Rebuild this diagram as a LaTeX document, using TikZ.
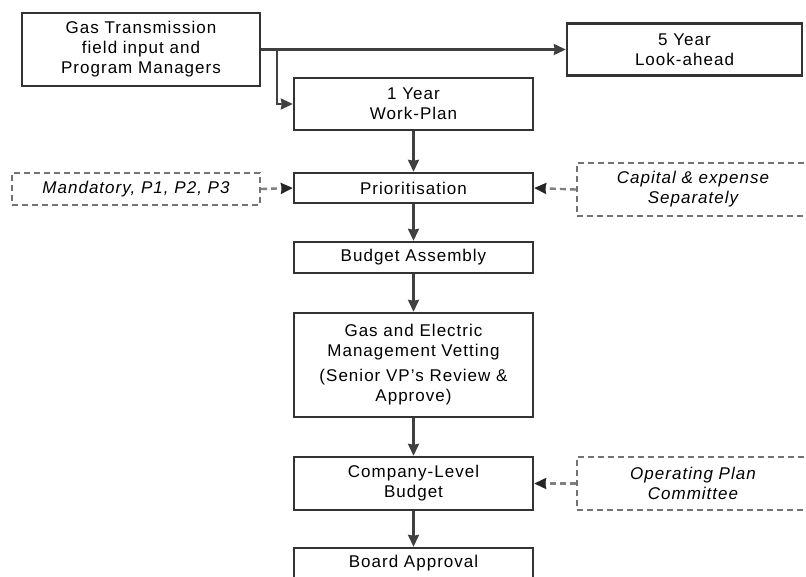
\documentclass[tikz,border=0pt]{standalone}
\usepackage{fontspec}
\setmainfont{Liberation Sans}[LetterSpace=6]
\usetikzlibrary{arrows.meta}
\begin{document}
\begin{tikzpicture}[x=1pt,y=-1pt,font=\fontsize{17}{20}\selectfont, line join=miter, >={Stealth[length=12pt,width=11pt,inset=1pt]},
	box/.style={draw=black!80,line width=2.4pt,inner sep=0pt,align=center,minimum width=239pt},
	dbox/.style={draw=black!55,line width=2.4pt,dash pattern=on 6pt off 4pt,inner sep=0pt,align=center,font=\fontsize{17}{20}\selectfont\itshape},
	flow/.style={draw=black!75,line width=2.4pt,->},
	dflow/.style={draw=black!50,line width=2.4pt,dash pattern=on 6pt off 4pt,-{Stealth[length=12pt,width=11pt,inset=1pt,black!85]}}]
	\useasboundingbox (0,0) rectangle (806,576);
	% top row
	\node[box,minimum width=238pt,minimum height=73pt] (src) at (141,49.5) {Gas Transmission\\field input and\\Program Managers};
	\node[box,minimum width=235pt,minimum height=52pt] (five) at (684.5,49.5) {5 Year\\Look-ahead};
	% main column
	\node[box,minimum height=52pt] (work) at (413.5,104) {1 Year\\Work-Plan};
	\node[box,minimum height=30pt] (prio) at (413.5,188) {Prioritisation};
	\node[box,minimum height=31pt] (budget) at (413.5,257.5) {Budget Assembly};
	\node[box,minimum height=104pt] (vet) at (413.5,365) {Gas and Electric\\Management Vetting\\[5pt](Senior VP's Review \&\\Approve)};
	\node[box,minimum height=53pt] (company) at (413.5,483.5) {Company-Level\\Budget};
	\node[box,minimum height=31pt] (board) at (413.5,563.5) {Board Approval};
	% side inputs
	\node[dbox,minimum width=248pt,minimum height=32pt] (mand) at (136,189) {Mandatory, P1, P2, P3};
	\node[dbox,minimum width=232pt,minimum height=53pt] (capex) at (693,189.5) {Capital \& expense\\Separately};
	\node[dbox,minimum width=232pt,minimum height=53pt] (opc) at (693,483.5) {Operating Plan\\Committee};
	% connectors
	\coordinate (jn) at (277,49.5);
	\draw[flow] (src.east) -- (five.west);
	\draw[flow] (jn) |- (work.west);
	\draw[flow] (work) -- (prio);
	\draw[flow] (prio) -- (budget);
	\draw[flow] (budget) -- (vet);
	\draw[flow] (vet) -- (company);
	\draw[flow] (company) -- (board);
	\draw[dflow] (mand.east) -- (prio.west);
	\draw[dflow] (capex.west) -- (prio.east);
	\draw[dflow] (opc.west) -- (company.east);
\end{tikzpicture}
\end{document}
